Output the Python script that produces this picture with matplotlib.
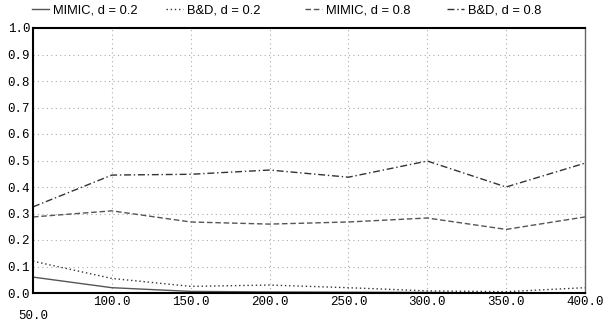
import matplotlib
matplotlib.use("Agg")
import matplotlib.pyplot as plt
import matplotlib.transforms as mtransforms

x = [50, 100, 150, 200, 250, 300, 350, 400]
mimic_02 = [0.06, 0.02, 0.006, 0.004, 0.003, 0.002, 0.0, 0.0]
bd_02 = [0.12, 0.055, 0.025, 0.03, 0.02, 0.008, 0.005, 0.02]
mimic_08 = [0.287, 0.31, 0.268, 0.26, 0.268, 0.283, 0.24, 0.287]
bd_08 = [0.325, 0.445, 0.448, 0.464, 0.437, 0.498, 0.40, 0.49]

series_labels = ["MIMIC, d = 0.2", "B&D, d = 0.2", "MIMIC, d = 0.8", "B&D, d = 0.8"]
xtick_vals = [50, 100, 150, 200, 250, 300, 350, 400]
xtick_labels = ["50.0", "100.0", "150.0", "200.0", "250.0", "300.0", "350.0", "400.0"]
ytick_vals = [0.0, 0.1, 0.2, 0.3, 0.4, 0.5, 0.6, 0.7, 0.8, 0.9, 1.0]
ytick_labels = ["0.0", "0.1", "0.2", "0.3", "0.4", "0.5", "0.6", "0.7", "0.8", "0.9", "1.0"]

fig = plt.figure(figsize=(6.04, 3.25), dpi=100)
ax = fig.add_axes([33/604, 32/325, (585-33)/604, (293-28)/325])

lc = "#333333"
l1, = ax.plot(x, mimic_02, color="#555555", lw=1.0, ls="-")
l2, = ax.plot(x, bd_02, color=lc, lw=1.0, ls=(0, (1, 2)))
l3, = ax.plot(x, mimic_08, color="#555555", lw=1.0, ls=(0, (4, 2)))
l4, = ax.plot(x, bd_08, color=lc, lw=1.0, ls=(0, (5, 2, 1, 2)))

ax.set_xlim(50, 400)
ax.set_ylim(0, 1.0)

mono = "Liberation Mono"
ax.set_xticks(xtick_vals)
ax.set_xticklabels(xtick_labels, fontfamily=mono, fontsize=9)
ax.set_yticks(ytick_vals)
ax.set_yticklabels(ytick_labels, fontfamily=mono, fontsize=9)
ax.tick_params(length=0, pad=2)

# Offset first x label downward
lab0 = ax.get_xticklabels()[0]
lab0.set_transform(lab0.get_transform() + mtransforms.ScaledTranslation(0, -14/100, fig.dpi_scale_trans))

ax.grid(True, color="#aaaaaa", ls=(0, (1, 3)), lw=0.8)
for sp in ["top", "left", "bottom"]:
    ax.spines[sp].set_linewidth(1.5)
    ax.spines[sp].set_color("black")
ax.spines["right"].set_linewidth(1.0)
ax.spines["right"].set_color("#666666")

handles = [l1, l2, l3, l4]
legend_x = [32, 166, 305, 447]
for h, lab, lx in zip(handles, series_labels, legend_x):
    fig.legend([h], [lab], loc="upper left", bbox_to_anchor=(lx/604, 1 - 4/325),
               frameon=False, handlelength=1.3, handletextpad=0.3,
               prop={"family": "Liberation Sans", "size": 9.3}, borderaxespad=0.0,
               borderpad=0.0)

fig.savefig("out.png", dpi=100)
